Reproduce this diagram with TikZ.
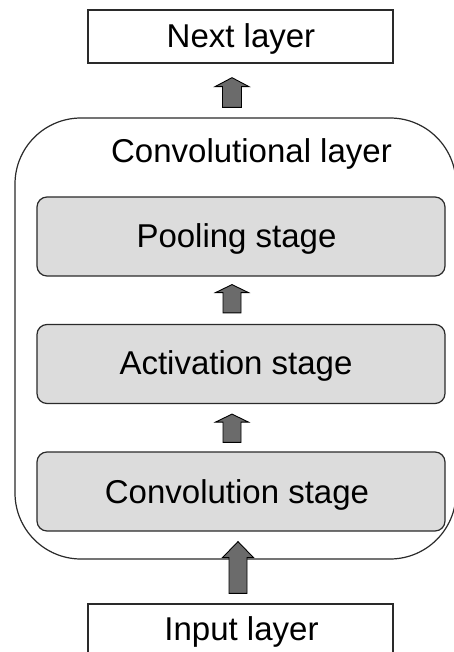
\documentclass[tikz,border=0pt]{standalone}
\usepackage{fontspec}
\setmainfont{Liberation Sans}
\usetikzlibrary{calc}
\definecolor{stagefill}{HTML}{DCDCDC}
\definecolor{arrowfill}{HTML}{6B6B6B}
\definecolor{edge}{HTML}{2A2A2A}
\tikzset{
  layerbox/.style={draw=edge, line width=1.3pt, fill=white, inner sep=0pt},
  stagebox/.style={draw=edge, line width=1.2pt, fill=stagefill, rounded corners=10pt,
                   minimum width=408pt, minimum height=79pt, inner sep=0pt},
  outerbox/.style={draw=edge, line width=1.2pt, rounded corners=66pt},
  label/.style={anchor=base, inner sep=0pt, font=\fontsize{33}{40}\selectfont},
  flowarrow/.style={draw=black, line width=0.9pt, fill=arrowfill, line join=miter}
}
% block arrow from base #1 up to tip #2; #3 head length, #4 head half width, #5 shaft half width
\newcommand\blockarrow[5]{%
  \path[flowarrow] let \p1=(#1), \p2=(#2) in
    (\x1-#5,\y1) -- (\x1-#5,\y2-#3) -- (\x1-#4,\y2-#3) -- (\x1,\y2)
    -- (\x1+#4,\y2-#3) -- (\x1+#5,\y2-#3) -- (\x1+#5,\y1) -- cycle;}
\begin{document}
\begin{tikzpicture}[x=1pt, y=-1pt]
  \useasboundingbox (0,0) rectangle (454,652);

  % outer convolutional layer frame
  \draw[outerbox] (15,118) rectangle (456,559);
  \node[label] (convlayer) at (251.5,163) {Convolutional layer};

  % surrounding layers
  \node[layerbox, minimum width=305pt, minimum height=53pt] (next) at (240.5,36.5) {};
  \node[layerbox, minimum width=305pt, minimum height=60pt] (input) at (240.5,634) {};
  \node[label] (nexttext) at (241,48) {Next layer};
  \node[label] (inputtext) at (241.5,640) {Input layer};

  % stages
  \node[stagebox] (pool) at (241,236.5) {};
  \node[stagebox] (act) at (241,364) {};
  \node[stagebox] (conv) at (241,491.5) {};
  \node[label] (pooltext) at (236.5,247) {Pooling stage};
  \node[label] (acttext) at (236,374) {Activation stage};
  \node[label] (convtext) at (237,503) {Convolution stage};

  % connectors (in calc offsets a positive y points down)
  \coordinate (a0b) at ($(input.north)+(-2.5,-10)$);
  \coordinate (a0t) at ($(conv.south)+(-2.5,10)$);
  \blockarrow{a0b}{a0t}{16}{15.5}{9}

  \coordinate (a1b) at ($(conv.north)+(-9,-9)$);
  \coordinate (a1t) at ($(act.south)+(-9,10)$);
  \blockarrow{a1b}{a1t}{8}{16.5}{9}

  \coordinate (a2b) at ($(act.north)+(-9,-11)$);
  \coordinate (a2t) at ($(pool.south)+(-9,8)$);
  \blockarrow{a2b}{a2t}{8}{16.5}{9}

  \coordinate (a3b) at ($(pool.north)+(-9,-89)$);
  \coordinate (a3t) at ($(next.south)+(-8.5,14)$);
  \blockarrow{a3b}{a3t}{9}{17}{9.5}
\end{tikzpicture}
\end{document}
